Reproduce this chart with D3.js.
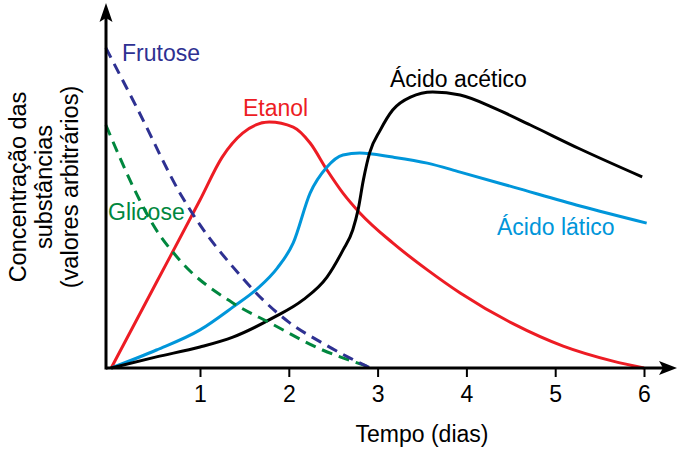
<!DOCTYPE html>
<html><head><meta charset="utf-8">
<script src="https://cdn.jsdelivr.net/npm/d3@7"></script>
<style>body{margin:0;background:#fff}svg{display:block;font-family:"Liberation Sans",Arial,sans-serif}</style>
</head><body><svg id="c" width="678" height="450"></svg>
<script>
const xTicks = [1, 2, 3, 4, 5, 6];
const frutoseT = [-0.06, 0.29, 0.8, 1.0, 1.37, 1.71, 2.0, 2.38, 2.69, 2.92];
const frutoseV = [10.67, 8.67, 5.7, 4.77, 3.37, 2.27, 1.53, 0.83, 0.33, 0];
const glicoseT = [-0.06, 0.32, 0.46, 0.77, 1.37, 1.79, 2.38, 2.77, 2.94];
const glicoseV = [8.1, 5.6, 4.83, 3.6, 2.17, 1.5, 0.6, 0.17, 0];
const etanolT = [0, 0.5, 1.0, 1.25, 1.48, 1.78, 2.05, 2.24, 2.43, 2.61, 2.8, 3.17, 3.56, 3.93, 4.53, 5.09, 5.65, 6.0];
const etanolV = [0, 2.8, 5.6, 7.03, 7.83, 8.2, 8.03, 7.5, 6.6, 5.83, 5.17, 4.17, 3.27, 2.5, 1.47, 0.73, 0.23, 0];
const laticoT = [0, 0.51, 1.0, 1.37, 1.64, 1.87, 2.05, 2.24, 2.43, 2.61, 2.8, 3.17, 3.56, 3.93, 4.53, 5.28, 6.03];
const laticoV = [0, 0.6, 1.27, 2.03, 2.63, 3.33, 4.17, 5.83, 6.7, 7.1, 7.17, 7.03, 6.83, 6.53, 6.03, 5.4, 4.83];
const aceticoT = [0, 0.51, 1.0, 1.37, 1.82, 2.16, 2.43, 2.61, 2.72, 2.78, 2.84, 2.91, 3.03, 3.17, 3.37, 3.62, 3.93, 4.34, 4.72, 5.28, 5.98];
const aceticoV = [0, 0.37, 0.7, 1.03, 1.67, 2.27, 3.03, 3.93, 4.6, 5.27, 6.27, 7.17, 7.93, 8.6, 9.03, 9.2, 9.1, 8.63, 8.1, 7.3, 6.37];

const svg = d3.select("#c");
const x = d3.scaleLinear().domain([0, 6]).range([111.2, 644]);
const y = d3.scaleLinear().domain([0, 12]).range([368, 8]);
const axisX = 106;

const line = d3.line().x(d => x(d[0])).y(d => y(d[1])).curve(d3.curveMonotoneX);
const zip = (t, v) => t.map((d, i) => [d, v[i]]);

const series = [
  {t: etanolT, v: etanolV, c: "#ed1c24", dash: null},
  {t: laticoT, v: laticoV, c: "#0096da", dash: null},
  {t: aceticoT, v: aceticoV, c: "#000000", dash: null},
  {t: glicoseT, v: glicoseV, c: "#00873e", dash: "11,7"},
  {t: frutoseT, v: frutoseV, c: "#2e3192", dash: "11,7"}
];
series.forEach(s => {
  svg.append("path").attr("d", line(zip(s.t, s.v))).attr("fill", "none")
    .attr("stroke", s.c).attr("stroke-width", 3).attr("stroke-dasharray", s.dash);
});

// axes
svg.append("line").attr("x1", axisX).attr("x2", 668).attr("y1", y(0)).attr("y2", y(0)).attr("stroke", "#000").attr("stroke-width", 3);
svg.append("line").attr("x1", axisX).attr("x2", axisX).attr("y1", y(0) + 1.5).attr("y2", 14).attr("stroke", "#000").attr("stroke-width", 3);
svg.append("path").attr("d", `M${axisX},3 L${axisX + 6.5},22 L${axisX},18 L${axisX - 6.5},22 Z`).attr("fill", "#000");
svg.append("path").attr("d", `M677,${y(0)} L659,${y(0) - 7} L663,${y(0)} L659,${y(0) + 7} Z`).attr("fill", "#000");

const xAxis = d3.axisBottom(x).tickValues(xTicks).tickSize(9).tickPadding(9).tickFormat(d3.format("d"));
const gx = svg.append("g").attr("transform", `translate(0,${y(0)})`).call(xAxis);
gx.select(".domain").remove();
gx.selectAll(".tick line").attr("stroke", "#000").attr("stroke-width", 2);
gx.selectAll(".tick text").attr("font-size", 23).attr("fill", "#000").attr("font-family", "Liberation Sans, Arial, sans-serif");

svg.append("text").attr("x", 422).attr("y", 442).attr("text-anchor", "middle").attr("font-size", 23).text("Tempo (dias)");

const yl = svg.append("text").attr("transform", "translate(0,187) rotate(-90)").attr("text-anchor", "middle").attr("font-size", 23.5);
["Concentração das", "substâncias", "(valores arbitrários)"].forEach((t, i) => {
  yl.append("tspan").attr("x", 0).attr("y", 26 + i * 26).text(t);
});

const labels = [
  {t: "Frutose", x: 122, y: 61, c: "#2e3192"},
  {t: "Glicose", x: 108, y: 220, c: "#00873e"},
  {t: "Etanol", x: 243, y: 116, c: "#ed1c24"},
  {t: "Ácido acético", x: 390, y: 87, c: "#000000"},
  {t: "Ácido lático", x: 497, y: 235, c: "#0096da"}
];
labels.forEach(l => svg.append("text").attr("x", l.x).attr("y", l.y).attr("fill", l.c).attr("font-size", 23).text(l.t));
</script></body></html>
